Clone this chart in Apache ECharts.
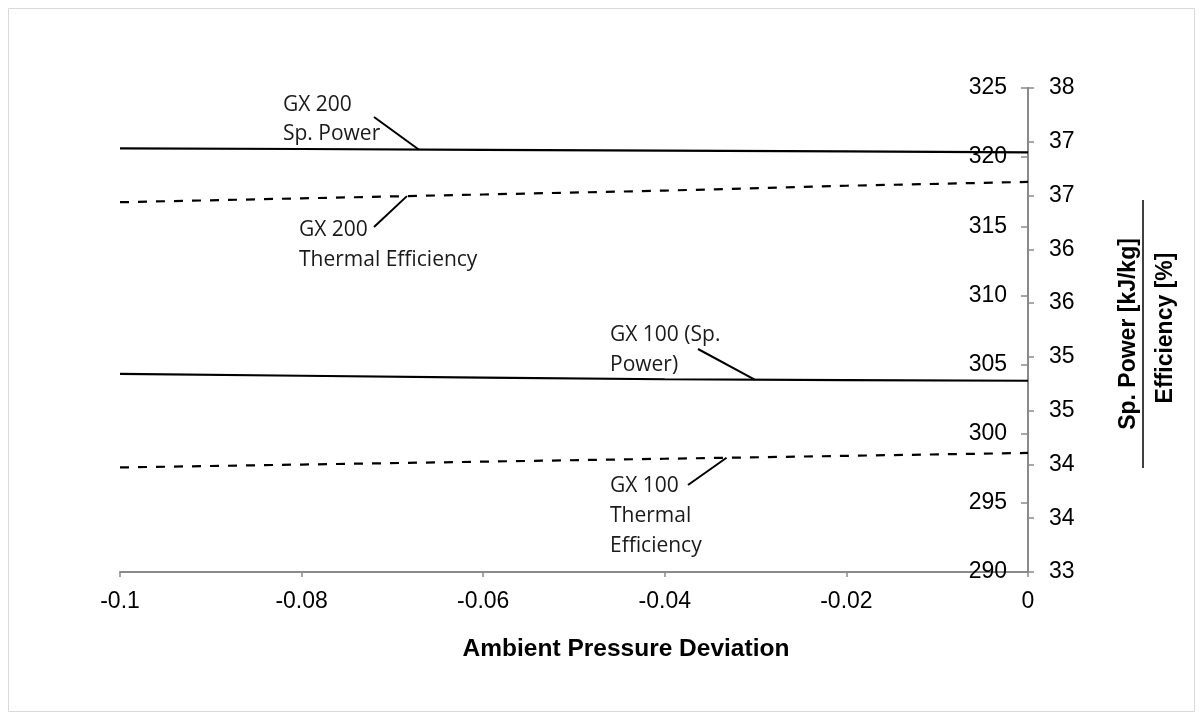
<!DOCTYPE html>
<html>
<head>
<meta charset="utf-8">
<script src="https://cdn.jsdelivr.net/npm/echarts@6/dist/echarts.min.js"></script>
<style>
html,body{margin:0;padding:0;background:#fff;}
#chart{width:1203px;height:720px;}
</style>
</head>
<body>
<div id="chart"></div>
<script>
// ---- data ----
const pressureDeviation = [-0.1, -0.08, -0.06, -0.04, -0.02, 0];
const gx200SpPower   = [320.64, 320.59, 320.53, 320.47, 320.41, 320.35];
const gx200ThermEff  = [36.82, 36.86, 36.90, 36.94, 36.99, 37.03];
const gx100SpPower   = [304.32, 304.19, 304.06, 303.94, 303.87, 303.83];
const gx100ThermEff  = [34.08, 34.11, 34.14, 34.17, 34.20, 34.23];

const xTitle = 'Ambient Pressure Deviation';
const yTitleTop = 'Sp. Power [kJ/kg]';
const yTitleBottom = 'Efficiency [%]';

// annotations: text, the series they point to, and the x value where the leader line meets the curve
const annotations = [
  { text: 'GX 200\nSp. Power', series: 0, atX: -0.0671 },
  { text: 'GX 200\nThermal Efficiency', series: 1, atX: -0.0684 },
  { text: 'GX 100 (Sp.\nPower)', series: 2, atX: -0.0301 },
  { text: 'GX 100\nThermal\nEfficiency', series: 3, atX: -0.0332 }
];
// label placement (pixels) and leader line start
const annotLayout = [
  { tx: 283, ty: 90.5, lh: 29, sx: 374, sy: 117 },
  { tx: 299, ty: 215, lh: 30, sx: 374, sy: 227 },
  { tx: 610, ty: 320, lh: 30, sx: 698, sy: 349 },
  { tx: 610, ty: 471, lh: 30, sx: 688, sy: 485 }
];

const seriesDefs = [
  { name: 'GX 200 Sp. Power', values: gx200SpPower, axis: 0, dashed: false },
  { name: 'GX 200 Thermal Efficiency', values: gx200ThermEff, axis: 1, dashed: true },
  { name: 'GX 100 Sp. Power', values: gx100SpPower, axis: 0, dashed: false },
  { name: 'GX 100 Thermal Efficiency', values: gx100ThermEff, axis: 1, dashed: true }
];

const axisColor = '#8a8a8a';
const tickFont = { fontFamily: 'Liberation Sans, Arial, sans-serif', fontSize: 23, color: '#000' };

const chart = echarts.init(document.getElementById('chart'), null, { renderer: 'canvas' });

const option = {
  backgroundColor: '#fff',
  animation: false,
  grid: { left: 120, right: 175, top: 88, bottom: 148, containLabel: false },
  xAxis: {
    type: 'value', min: -0.1, max: 0, interval: 0.02,
    axisLine: { show: true, onZero: false, lineStyle: { color: axisColor, width: 2 } },
    axisTick: { show: true, length: 5, lineStyle: { color: axisColor, width: 1.5 } },
    axisLabel: Object.assign({ margin: 18, lineHeight: 23, showMaxLabel: true, showMinLabel: true }, tickFont),
    splitLine: { show: false }
  },
  yAxis: [
    {
      type: 'value', min: 290, max: 325, interval: 5, position: 'right',
      axisLine: { show: true, lineStyle: { color: axisColor, width: 2 } },
      axisTick: { show: true, inside: true, length: 7, lineStyle: { color: axisColor, width: 1.5 } },
      axisLabel: Object.assign({ inside: true, margin: 21 }, tickFont),
      splitLine: { show: false }
    },
    {
      type: 'value', min: 33, max: 38, interval: 5 / 9, position: 'right', offset: 0,
      axisLine: { show: true, lineStyle: { color: axisColor, width: 2 } },
      axisTick: { show: true, inside: false, length: 6, lineStyle: { color: axisColor, width: 1.5 } },
      axisLabel: Object.assign({ margin: 21, formatter: v => String(Math.round(v)) }, tickFont),
      splitLine: { show: false }
    }
  ],
  series: seriesDefs.map(s => ({
    type: 'line', name: s.name, yAxisIndex: s.axis, symbol: 'none', silent: true,
    data: pressureDeviation.map((x, i) => [x, s.values[i]]),
    lineStyle: { color: '#000', width: 2.2, type: s.dashed ? [9, 9] : 'solid' },
    z: 3
  }))
};
chart.setOption(option);

function valueAt(values, x) {
  for (let i = 0; i < pressureDeviation.length - 1; i++) {
    const x0 = pressureDeviation[i], x1 = pressureDeviation[i + 1];
    if (x >= x0 && x <= x1) {
      const t = (x - x0) / (x1 - x0);
      return values[i] + t * (values[i + 1] - values[i]);
    }
  }
  return values[values.length - 1];
}

const graphics = [
  { type: 'rect', shape: { x: 8.5, y: 8.5, width: 1186, height: 703 }, style: { fill: null, stroke: '#d9d9d9', lineWidth: 1 }, z: 0, silent: true },
  { type: 'text', x: 626, y: 649, style: { text: xTitle, fontFamily: 'Liberation Sans, Arial, sans-serif', fontWeight: 'bold', fontSize: 24.5, fill: '#000', align: 'center', verticalAlign: 'middle' } },
  { type: 'text', x: 1129, y: 334, rotation: Math.PI / 2, style: { text: yTitleTop, fontFamily: 'Liberation Sans, Arial, sans-serif', fontWeight: 'bold', fontSize: 23, fill: '#000', align: 'center', verticalAlign: 'middle' } },
  { type: 'line', shape: { x1: 1143, y1: 200, x2: 1143, y2: 468 }, style: { stroke: '#000', lineWidth: 1.5 } },
  { type: 'text', x: 1166, y: 328, rotation: Math.PI / 2, style: { text: yTitleBottom, fontFamily: 'Liberation Sans, Arial, sans-serif', fontWeight: 'bold', fontSize: 23, fill: '#000', align: 'center', verticalAlign: 'middle' } }
];

annotations.forEach((a, i) => {
  const L = annotLayout[i];
  const sd = seriesDefs[a.series];
  const yv = valueAt(sd.values, a.atX);
  const p = chart.convertToPixel({ xAxisIndex: 0, yAxisIndex: sd.axis }, [a.atX, yv]);
  graphics.push({ type: 'text', x: L.tx, y: L.ty, style: { text: a.text, fontFamily: 'Open Sans, sans-serif', fontSize: 21, lineHeight: L.lh, fill: '#1a1a1a', align: 'left', verticalAlign: 'top' } });
  graphics.push({ type: 'line', shape: { x1: L.sx, y1: L.sy, x2: p[0], y2: p[1] }, style: { stroke: '#000', lineWidth: 2 } });
});

chart.setOption({ graphic: graphics });
</script>
</body>
</html>
